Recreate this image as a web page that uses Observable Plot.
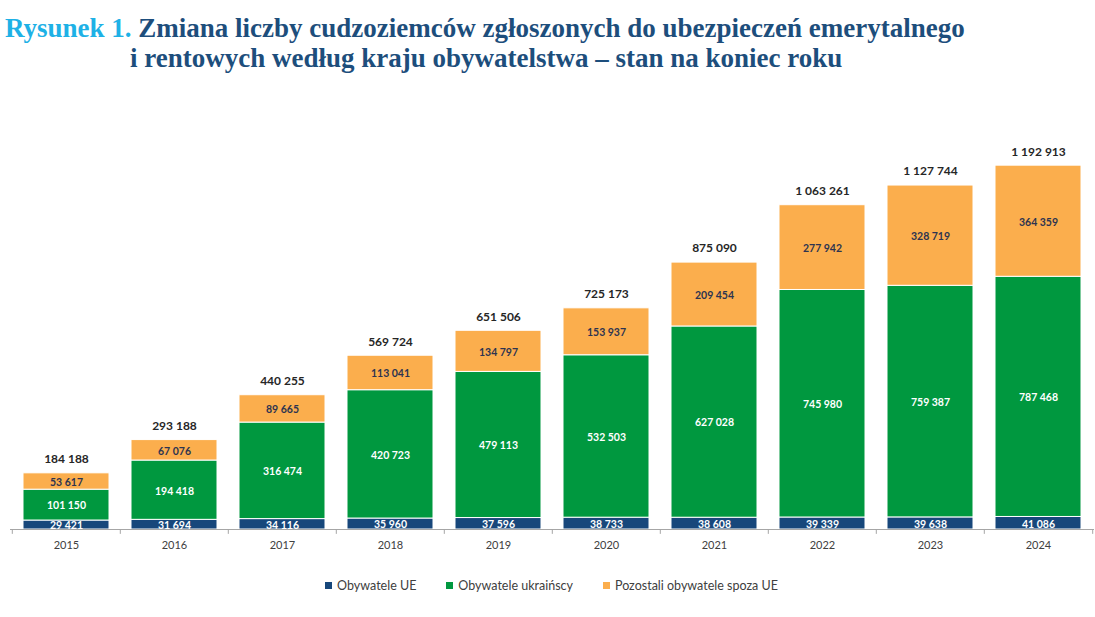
<!DOCTYPE html>
<html>
<head>
<meta charset="utf-8">
<script src="https://cdn.jsdelivr.net/npm/d3@7"></script>
<script src="https://cdn.jsdelivr.net/npm/@observablehq/plot@0.6"></script>
<style>
  html, body { margin: 0; padding: 0; background: #fff; width: 1095px; height: 617px; overflow: hidden; }
  #title { position: absolute; left: 5px; top: 13px; width: 1090px; white-space: nowrap; font-family: "Liberation Serif", serif; font-weight: bold; font-size: 27px; line-height: 30px; color: #1d4e7c; }
  #title .lead { color: #1eb1e6; }
  #title .l2 { padding-left: 125px; }
  #chart { position: absolute; left: 0; top: 90px; }
  #legend { position: absolute; top: 578px; left: 0; width: 1095px; display: flex; justify-content: center; gap: 30px; font-family: Lato, "Open Sans", sans-serif; font-size: 12.5px; color: #404040; padding-left: 8px; box-sizing: border-box; }
  #legend .item { display: flex; align-items: center; gap: 5px; }
  #legend .sw { width: 7px; height: 7px; display: inline-block; }
</style>
</head>
<body>
<div id="title"><div><span class="lead">Rysunek 1.</span> Zmiana liczby cudzoziemców zgłoszonych do ubezpieczeń emerytalnego</div><div class="l2">i rentowych według kraju obywatelstwa – stan na koniec roku</div></div>
<div id="chart"></div>
<div id="legend"></div>
<script>
const years = ["2015","2016","2017","2018","2019","2020","2021","2022","2023","2024"];
const series = ["Obywatele UE", "Obywatele ukraińscy", "Pozostali obywatele spoza UE"];
const eu = [29421, 31694, 34116, 35960, 37596, 38733, 38608, 39339, 39638, 41086];
const ukr = [101150, 194418, 316474, 420723, 479113, 532503, 627028, 745980, 759387, 787468];
const other = [53617, 67076, 89665, 113041, 134797, 153937, 209454, 277942, 328719, 364359];
const totals = [184188, 293188, 440255, 569724, 651506, 725173, 875090, 1063261, 1127744, 1192913];
const colors = ["#17477b", "#00983f", "#fbae4d"];
const labelColors = ["#ffffff", "#ffffff", "#2d3450"];

const fmt = v => d3.format(",")(v).replace(/,/g, "\u00a0");

const rows = [];
years.forEach((y, i) => {
  [eu, ukr, other].forEach((arr, s) => rows.push({year: y, series: series[s], value: arr[i]}));
});
const totalRows = years.map((y, i) => ({year: y, total: totals[i]}));

const step = (1094 - 10) / years.length;

const chart = Plot.plot({
  width: 1095,
  height: 470,
  marginLeft: 10,
  marginRight: 1,
  marginTop: 12,
  marginBottom: 31,
  x: {domain: years, paddingInner: 0.2, paddingOuter: 0.1, label: null},
  y: {domain: [0, 1400000], axis: null},
  color: {domain: series, range: colors},
  style: {fontFamily: "Lato, 'Open Sans', sans-serif"},
  marks: [
    Plot.barY(rows, {x: "year", y: "value", fill: "series", stroke: "#fff", strokeWidth: 1, order: series}),
    Plot.text(rows, Plot.stackY({x: "year", y: "value", z: "series", order: series, text: d => fmt(d.value),
      fill: d => labelColors[series.indexOf(d.series)], fontWeight: "bold", fontSize: 10.5, dy: 1})),
    Plot.text(totalRows, {x: "year", y: "total", text: d => fmt(d.total), fontWeight: "bold", fontSize: 12, fill: "#262626", dy: -14}),
    Plot.ruleY([0], {stroke: "#a6a6a6", strokeWidth: 1}),
    Plot.ruleX(years, {x: d => d, y1: 0, y2: -16000, dx: -step / 2, stroke: "#a6a6a6"}),
    Plot.ruleX(years.slice(-1), {x: d => d, y1: 0, y2: -16000, dx: step / 2, stroke: "#a6a6a6"}),
    Plot.axisX({tickSize: 0, tickPadding: 12, fontSize: 11, color: "#404040", label: null})
  ]
});
document.getElementById("chart").appendChild(chart);

const legend = document.getElementById("legend");
series.forEach((s, i) => {
  const item = document.createElement("div");
  item.className = "item";
  const sw = document.createElement("span");
  sw.className = "sw";
  sw.style.background = colors[i];
  const t = document.createElement("span");
  t.textContent = s;
  item.appendChild(sw);
  item.appendChild(t);
  legend.appendChild(item);
});
</script>
</body>
</html>
